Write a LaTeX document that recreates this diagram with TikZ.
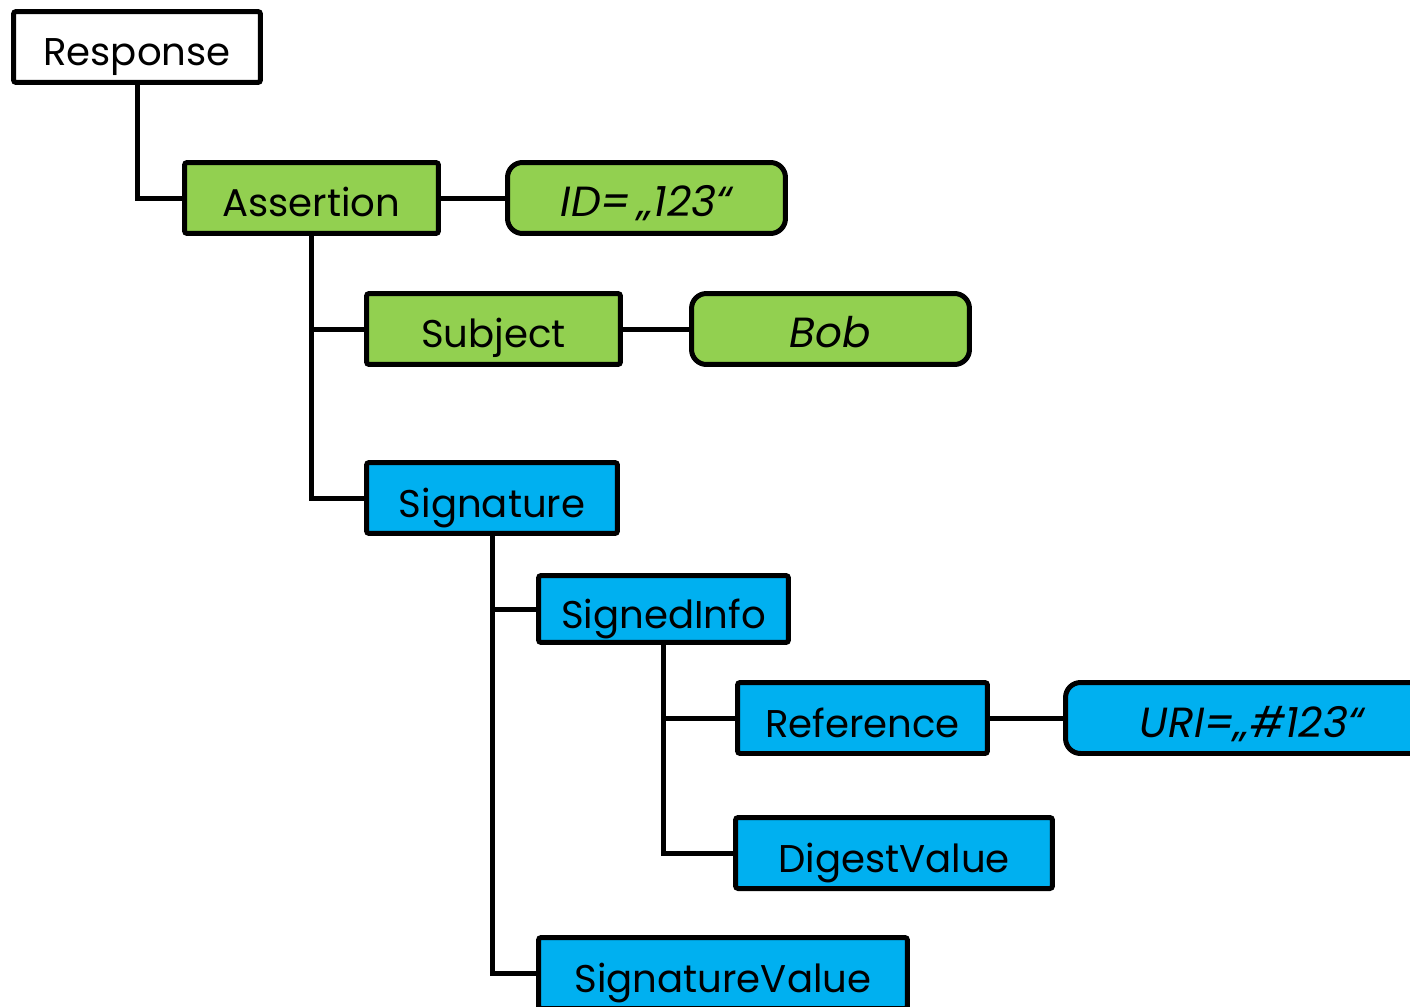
\documentclass[tikz,border=0pt]{standalone}
\usepackage{fontspec}
\setmainfont{Poppins}
\usepackage{xcolor}
\definecolor{leafgreen}{HTML}{92D050}
\definecolor{skyblue}{HTML}{00B0F0}
\usetikzlibrary{positioning}

\tikzset{
  elem/.style={draw, line width=0.1cm, rounded corners=1.5pt, inner sep=0pt,
    minimum height=1.42cm, text height=0.76cm, text depth=0cm,
    font=\fontsize{22}{26}\selectfont},
  attr/.style={elem, rounded corners=0.3cm, font=\fontsize{24}{28}\selectfont\itshape},
  link/.style={line width=0.1cm}
}

\begin{document}
\begin{tikzpicture}[x=0.02cm, y=-0.02cm]
    \useasboundingbox (0,0) rectangle (1410,1007);

    \node[elem, fill=white, minimum width=4.94cm] (resp) at (137,47) {Response};
    \node[elem, fill=leafgreen, minimum width=5.08cm] (assert) at (311.5,198) {Assertion};
    \node[attr, fill=leafgreen, minimum width=5.56cm] (id) at (646.5,198) {ID=\,„123“};
    \node[elem, fill=leafgreen, minimum width=5.08cm] (subj) at (493.5,329) {Subject};
    \node[attr, fill=leafgreen, minimum width=5.56cm] (bob) at (830.5,329) {Bob};

    \node[elem, fill=skyblue, minimum width=5.02cm] (sig) at (492,498) {Signature};
    \node[elem, fill=skyblue, minimum width=5.00cm, minimum height=1.34cm] (info) at (663.5,609) {SignedInfo};
    \node[elem, fill=skyblue, minimum width=5.00cm] (ref) at (862.5,718) {Reference};
    \node[attr, fill=skyblue, minimum width=7.46cm] (uri) at (1252,718) {URI=„\#123“};
    \node[elem, fill=skyblue, minimum width=6.34cm] (digest) at (894,853) {DigestValue};
    \node[elem, fill=skyblue, minimum width=7.38cm] (sigval) at (723,973) {SignatureValue};

    % tree
    \draw[link] (resp.south) |- (assert.west);
    \draw[link] (assert.east) -- (id.west);
    \draw[link] (assert.south) |- (subj.west);
    \draw[link] (assert.south) |- (sig.west);
    \draw[link] (subj.east) -- (bob.west);
    \draw[link] (sig.south) |- (info.west);
    \draw[link] (sig.south) |- (sigval.west);
    \draw[link] (info.south) |- (ref.west);
    \draw[link] (info.south) |- (digest.west);
    \draw[link] (ref.east) -- (uri.west);
\end{tikzpicture}
\end{document}
